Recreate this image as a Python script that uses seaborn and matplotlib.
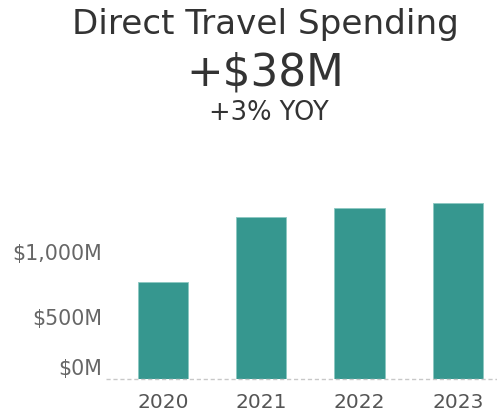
import matplotlib
matplotlib.use("Agg")
import matplotlib.pyplot as plt
import matplotlib.transforms as mtransforms
import seaborn as sns
import pandas as pd
from matplotlib.ticker import FuncFormatter, FixedLocator

years = ["2020", "2021", "2022", "2023"]
spending = [745, 1240, 1314, 1352]  # $M
title = "Direct Travel Spending"
change = "+$38M"
yoy = "+3% YOY"

df = pd.DataFrame({"year": years, "spending": spending})

sns.set_theme(style="white")
plt.rcParams["font.family"] = ["DejaVu Sans"]

fig = plt.figure(figsize=(4.97, 4.14), dpi=100)
ax = fig.add_axes([0.2294, 0.0833, 0.7706, 0.4577])

sns.barplot(data=df, x="year", y="spending", color="#36978f", width=0.51,
            saturation=1, edgecolor="#8cc8c2", linewidth=0.6, ax=ax)

ax.set_xlim(-0.5, 3.4)
ax.set_ylim(0, 1458)
ax.set_xlabel("")
ax.set_ylabel("")
ax.yaxis.set_major_locator(FixedLocator([0, 500, 1000]))
ax.yaxis.set_major_formatter(FuncFormatter(lambda v, p: f"${v:,.0f}M"))
ax.tick_params(axis="y", colors="#eeeeee", labelcolor="#666666", labelsize=14.8, length=7, width=1, pad=1.5)
ax.tick_params(axis="x", labelcolor="#555555", labelsize=14.5, length=0, pad=10)
ax.xaxis.set_minor_locator(FixedLocator([-0.5, 0.5, 1.5, 2.5]))
ax.tick_params(axis="x", which="minor", length=7, color="#eeeeee", width=1)

# lift the $0M label above the baseline, nudge the others down slightly
fig.canvas.draw()
for lab in ax.get_yticklabels():
    dy = 9 / 72 if lab.get_text() == "$0M" else -2 / 72
    lab.set_transform(lab.get_transform() + mtransforms.ScaledTranslation(0, dy, fig.dpi_scale_trans))

for s in ["top", "right", "left", "bottom"]:
    ax.spines[s].set_visible(False)
ax.axhline(0, xmin=-0.02, xmax=1, color="#c8c8c8", linestyle=(0, (3, 2)), linewidth=1, clip_on=False)

fig.text(0.535, 0.940, title, ha="center", va="center", fontsize=24.6, color="#333333")
fig.text(0.533, 0.824, change, ha="center", va="center", fontsize=31.5, color="#333333")
fig.text(0.541, 0.727, yoy, ha="center", va="center", fontsize=18.5, color="#333333")

fig.savefig("out.png", dpi=100)
